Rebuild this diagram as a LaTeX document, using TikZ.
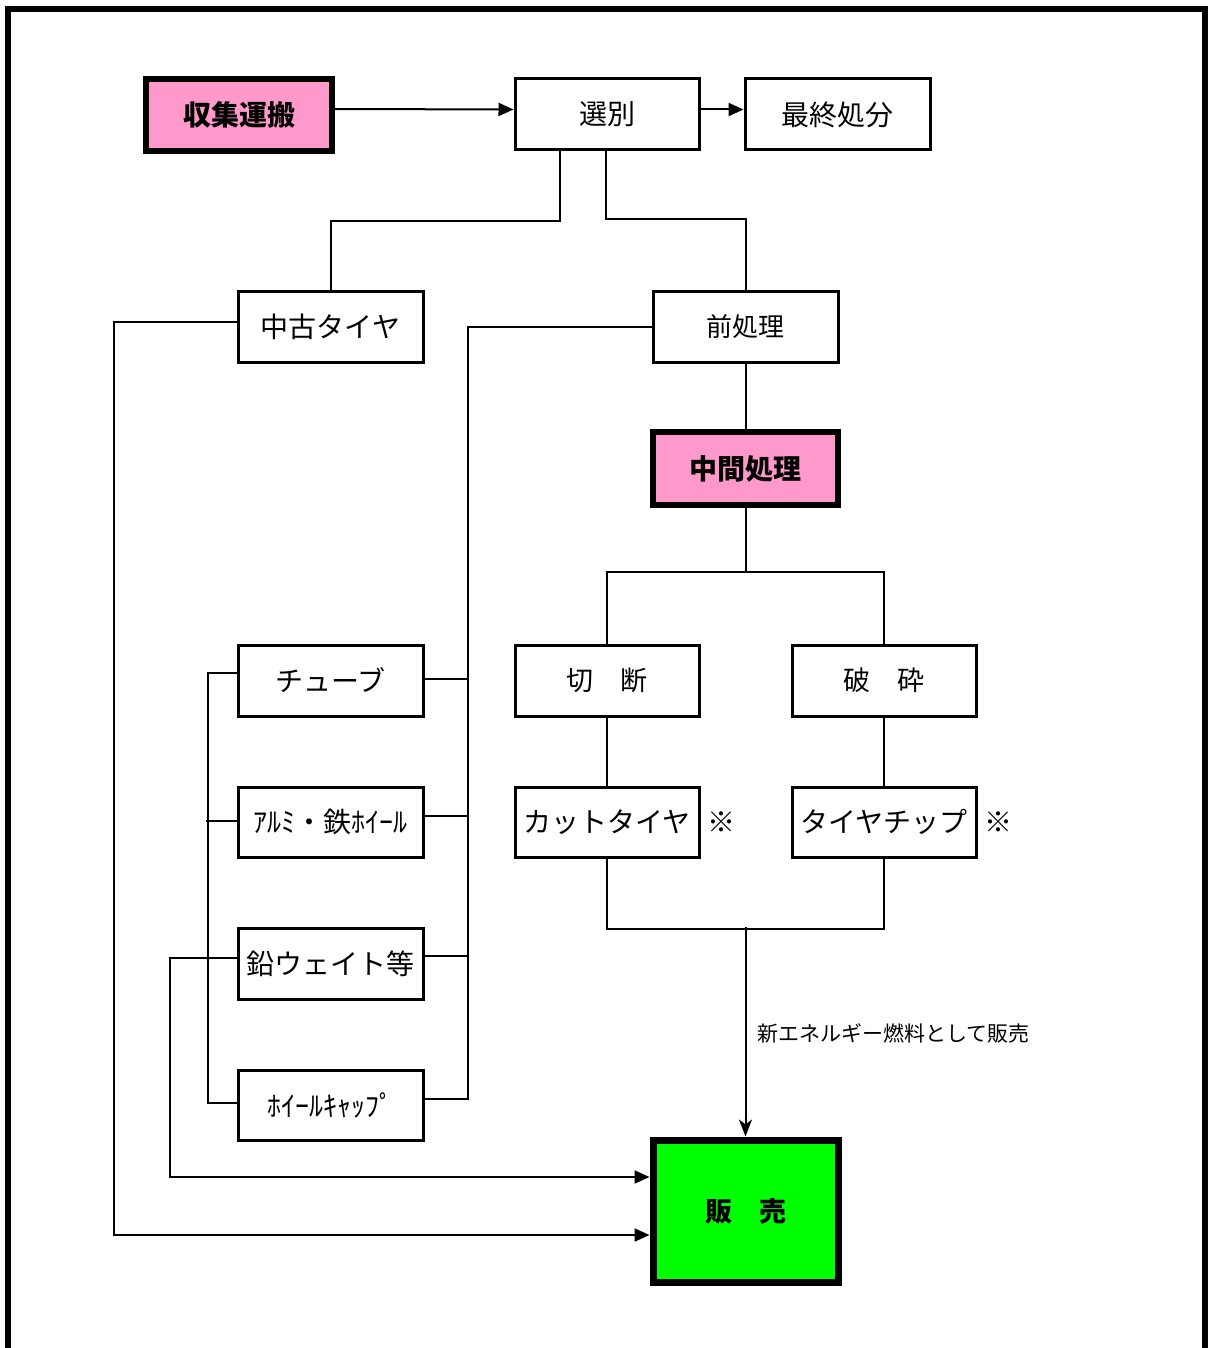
\documentclass[tikz,border=0pt]{standalone}
\usepackage{fontspec}
\setmainfont{Noto Sans CJK JP}
\usetikzlibrary{arrows.meta}
\definecolor{pinkbox}{HTML}{FF99CC}
\definecolor{greenbox}{HTML}{00FF00}
\begin{document}
\begin{tikzpicture}[x=1pt,y=-1pt,
  box/.style={draw,line width=3pt,inner sep=0pt,minimum width=185pt,minimum height=71pt,font=\fontsize{28}{30}\selectfont},
  boldbox/.style={box,line width=5.5pt,fill=pinkbox,font=\fontsize{28}{30}\selectfont\bfseries},
  conn/.style={line width=2pt},
  arr/.style={conn,-{Triangle[length=15pt,width=13pt]}},
  varr/.style={conn,-{Stealth[length=17pt,width=13pt,inset=5pt]}}]
\useasboundingbox (0,0) rectangle (1207,1348);
% outer frame
\draw[line width=6pt] (8,1352) -- (8,9) -- (1205,9) -- (1205,1352);
% top row
\node[boldbox,minimum width=186pt,minimum height=72pt] (shu) at (239,115) {収集運搬};
\node[box,minimum width=184pt] (sen) at (607,114.5) {選別};
\node[box] (sai) at (837.5,114.5) {最終処分};
% second row
\node[box] (chuko) at (330.5,326.5) {中古タイヤ};
\node[box,font=\fontsize{26}{28}\selectfont] (mae) at (745.5,326.5) {前処理};
\node[boldbox,minimum height=73pt] (chukan) at (745.5,468.5) {中間処理};
% right branches
\node[box,minimum width=184pt,font=\fontsize{27}{29}\selectfont] (setsu) at (607,680.5) {切　断};
\node[box,minimum width=184pt,font=\fontsize{27}{29}\selectfont] (hasai) at (884,680.5) {破　砕};
\node[box,minimum width=184pt,minimum height=70pt] (cut) at (607,822) {カットタイヤ};
\node[box,minimum width=184pt,minimum height=70pt] (chip) at (884,822) {タイヤチップ};
\node[font=\fontsize{28}{30}\selectfont] (kome1) at (721,822) {※};
\node[font=\fontsize{28}{30}\selectfont] (kome2) at (998,822) {※};
% left column
\node[box] (tube) at (330.5,680.5) {チューブ};
\node[box,minimum height=70pt] (alumi) at (330.5,822) {ｱﾙﾐ・鉄ﾎｲｰﾙ};
\node[box] (namari) at (330.5,963.5) {鉛ウェイト等};
\node[box,minimum height=70pt] (cap) at (330.5,1105) {ﾎｲｰﾙｷｬｯﾌﾟ};
% sale
\node[draw,line width=7pt,fill=greenbox,inner sep=0pt,minimum width=185pt,minimum height=142pt,font=\fontsize{27}{29}\selectfont\bfseries] (hanbai) at (745.5,1211) {販　売};
% connectors top
\draw[arr] ([yshift=6pt]shu.east) -- ([yshift=5pt]sen.west);
\draw[arr] ([yshift=5pt]sen.east) -- ([yshift=5pt]sai.west);
\draw[conn] (sen.south -| 560,0) -- (560,221) -| (chuko.north);
\draw[conn] (sen.south -| 606,0) -- (606,219) -| (mae.north);
\draw[conn] (mae.south) -- (chukan.north);
\draw[conn] (chukan.south) -- (chukan.south |- 0,573);
\draw[conn] (setsu.north) -- ++(0,-72) -| (hasai.north);
\draw[conn] (setsu.south) -- (cut.north);
\draw[conn] (hasai.south) -- (chip.north);
\draw[conn] (cut.south) -- ++(0,70) -| (chip.south);
\draw[varr] (hanbai.north |- 0,927) -- (hanbai.north);
\node[anchor=west,font=\fontsize{21}{23}\selectfont,inner sep=0pt] (lbl) at (757,1033) {新エネルギー燃料として販売};
% from 前処理 to left column
\draw[conn] (mae.west) -| (468,1099) -- (cap.east |- 0,1099);
\draw[conn] (468,679) -- (tube.east |- 0,679);
\draw[conn] (468,816) -- (alumi.east |- 0,816);
\draw[conn] (468,956) -- (namari.east |- 0,956);
% left bracket
\draw[conn] (tube.west |- 0,673) -| (208,1103) -- (cap.west |- 0,1103);
\draw[conn] (206,821) -- (alumi.west |- 0,821);
% to sale
\draw[arr] (namari.west |- 0,958) -| (170,1177) -- (hanbai.west |- 0,1177);
\draw[arr] (chuko.west |- 0,322) -| (114,1235) -- (hanbai.west |- 0,1235);
\end{tikzpicture}
\end{document}
